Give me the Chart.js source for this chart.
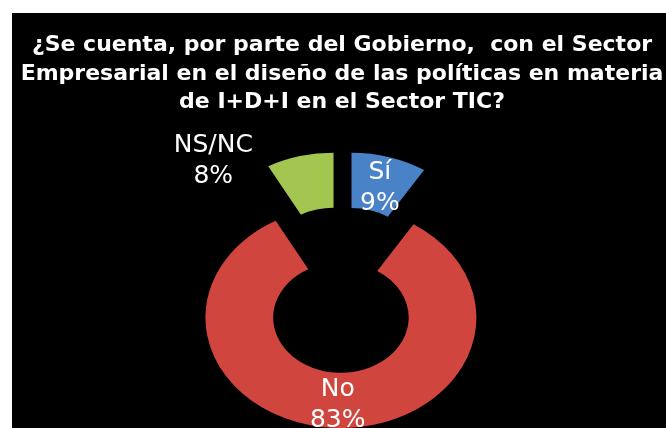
<!DOCTYPE html>
<html lang="es">
<head>
<meta charset="utf-8">
<title>Sector TIC</title>
<script src="https://cdn.jsdelivr.net/npm/chart.js@4.4.1/dist/chart.umd.min.js"></script>
<style>
  html, body { margin: 0; padding: 0; background: #ffffff; }
  body { width: 666px; height: 428px; position: relative; overflow: hidden; }
  #frame { position: absolute; left: 12px; top: 13px; width: 654px; height: 415px; background: #000000; }
  #surveyChart { display: block; }
</style>
</head>
<body>
<div id="frame"><canvas id="surveyChart" width="654" height="415"></canvas></div>
<script>
const categories = ['Sí', 'No', 'NS/NC'];
const percentages = [9, 83, 8];
const titleLines = [
  '¿Se cuenta, por parte del Gobierno,  con el Sector',
  'Empresarial en el diseño de las políticas en materia',
  'de I+D+I en el Sector TIC?'
];

const sliceColors = ['#4A82C8', '#D0463F', '#A3C650'];
const squash = 0.815;   // picture is a tilted doughnut, so flatten it a bit
const explode = 34;     // every slice pulled away from the centre

// draw arcs ourselves so they can be squashed and exploded
const explodedDoughnut = {
  id: 'explodedDoughnut',
  beforeDatasetsDraw(chart) {
    const ctx = chart.ctx;
    const meta = chart.getDatasetMeta(0);
    meta.data.forEach(arc => {
      const mid = (arc.startAngle + arc.endAngle) / 2;
      ctx.save();
      ctx.translate(arc.x, arc.y);
      ctx.scale(1, squash);
      ctx.translate(-arc.x, -arc.y);
      ctx.translate(Math.cos(mid) * explode, Math.sin(mid) * explode);
      arc.draw(ctx);
      ctx.restore();
    });
    return false;
  },
  // afterDatasetsDraw is skipped once beforeDatasetsDraw returns false
  afterDraw(chart) {
    const ctx = chart.ctx;
    const meta = chart.getDatasetMeta(0);
    ctx.save();
    ctx.fillStyle = '#ffffff';
    ctx.font = '25px "DejaVu Sans", sans-serif';
    ctx.textAlign = 'center';
    ctx.textBaseline = 'middle';
    meta.data.forEach((arc, i) => {
      const mid = (arc.startAngle + arc.endAngle) / 2;
      let x, y;
      if (i === 2) {
        // NS/NC sits outside, to the left of the slice's outer corner
        const cx = Math.cos(arc.startAngle) * arc.outerRadius + Math.cos(mid) * explode;
        const cy = Math.sin(arc.startAngle) * arc.outerRadius + Math.sin(mid) * explode;
        x = arc.x + cx - 55;
        y = arc.y + cy * squash - 6;
      } else {
        const r = (arc.innerRadius + arc.outerRadius) / 2 + explode;
        x = arc.x + Math.cos(mid) * r;
        y = arc.y + Math.sin(mid) * r * squash + 4;
      }
      ctx.fillText(categories[i], x, y - 15);
      ctx.fillText(percentages[i] + '%', x, y + 16);
    });
    ctx.restore();
  }
};

const ctx = document.getElementById('surveyChart').getContext('2d');
new Chart(ctx, {
  type: 'doughnut',
  data: {
    labels: categories,
    datasets: [{
      data: percentages,
      backgroundColor: sliceColors,
      borderWidth: 0,
      clip: false
    }]
  },
  options: {
    responsive: false,
    animation: false,
    radius: 135.5,
    cutout: '50%',
    layout: { padding: { left: 6 } },
    plugins: {
      legend: { display: false },
      tooltip: { enabled: false },
      title: {
        display: true,
        text: titleLines,
        color: '#ffffff',
        font: { family: '"DejaVu Sans", sans-serif', size: 22, weight: 'bold', lineHeight: 1.3 },
        padding: { top: 18, bottom: 35 }
      }
    }
  },
  plugins: [explodedDoughnut]
});
</script>
</body>
</html>
